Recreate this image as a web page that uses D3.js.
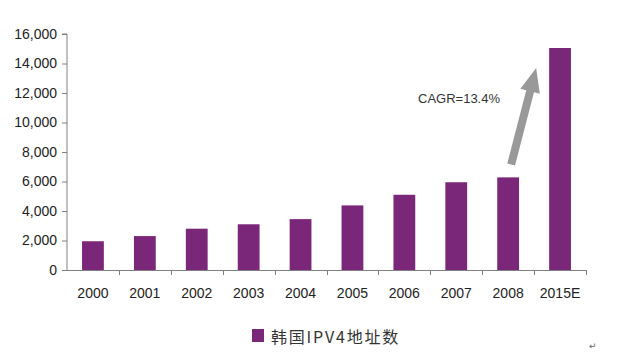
<!DOCTYPE html>
<html><head><meta charset="utf-8">
<script src="https://cdn.jsdelivr.net/npm/d3@7"></script>
<style>body{margin:0;background:#fff;}svg{display:block;}</style>
</head><body>
<svg id="c" width="625" height="358"></svg>
<script>
const categories = ["2000","2001","2002","2003","2004","2005","2006","2007","2008","2015E"];
const values = [1950, 2300, 2800, 3100, 3450, 4380, 5100, 5950, 6280, 15050];
const yTicks = [0,2000,4000,6000,8000,10000,12000,14000,16000];
const seriesName = "韩国IPV4地址数";
const cagrLabel = "CAGR=13.4%";
const arrowFrom = {cat:"2008", value:7150};
const arrowTo = {cat:"2008", value:13700};

const svg = d3.select("#c");
const L=67, R=586, T=34, B=270;
const x = d3.scaleBand().domain(categories).range([L,R]).paddingInner(0.58).paddingOuter(0.29);
const y = d3.scaleLinear().domain([0,16000]).range([B,T]);
const axisColor="#808080";
const font="'Liberation Sans', Arial, sans-serif";

svg.selectAll("rect.bar").data(values).join("rect")
  .attr("x",(d,i)=>x(categories[i])).attr("width",x.bandwidth())
  .attr("y",d=>y(d)).attr("height",d=>B-y(d)).attr("fill","#7B2779");

// y axis
const ya = svg.append("g").attr("transform",`translate(${L},0)`)
  .call(d3.axisLeft(y).tickValues(yTicks).tickSize(5).tickPadding(5).tickFormat(d3.format(",")));
ya.select(".domain").attr("stroke",axisColor).attr("d",`M-5,${T}H0V${B}`);
ya.selectAll(".tick line").attr("stroke",axisColor);
ya.selectAll(".tick text").attr("font-family",font).attr("font-size",14).attr("fill","#222");

// x axis
const step = (R-L)/categories.length;
const xg = svg.append("g");
xg.append("line").attr("x1",L).attr("x2",R).attr("y1",B+0.5).attr("y2",B+0.5).attr("stroke",axisColor);
xg.selectAll("line.t").data(d3.range(1,categories.length+1)).join("line")
  .attr("x1",i=>Math.round(L+i*step)+0.5).attr("x2",i=>Math.round(L+i*step)+0.5)
  .attr("y1",B).attr("y2",B+5).attr("stroke",axisColor);
xg.selectAll("text").data(categories).join("text")
  .attr("x",d=>x(d)+x.bandwidth()/2).attr("y",298).attr("text-anchor","middle")
  .attr("font-family",font).attr("font-size",14).attr("fill","#222").text(d=>d);

// arrow
const x1=x(arrowFrom.cat)+x.bandwidth()/2+3, y1=y(arrowFrom.value);
const x2=x(arrowTo.cat)+x.bandwidth()/2+28, y2=y(arrowTo.value);
const ang=Math.atan2(y2-y1,x2-x1);
const len=Math.hypot(x2-x1,y2-y1);
const headLen=24, sw=4, hw=10;
const pts=[[0,-sw],[len-headLen,-sw],[len-headLen,-hw],[len,0],[len-headLen,hw],[len-headLen,sw],[0,sw]];
svg.append("polygon").attr("points",pts.map(p=>p.join(",")).join(" "))
  .attr("transform",`translate(${x1},${y1}) rotate(${ang*180/Math.PI})`)
  .attr("fill","#999999");
svg.append("text").attr("x",418).attr("y",103).attr("font-family",font).attr("font-size",13)
  .attr("fill","#333").text(cagrLabel);

// legend
svg.append("rect").attr("x",252).attr("y",329).attr("width",12).attr("height",13).attr("fill","#7B2779");
svg.append("text").attr("x",271).attr("y",343).attr("font-family","'Noto Sans CJK SC', sans-serif")
  .attr("font-size",16).attr("letter-spacing",1.8).attr("fill","#333").text(seriesName);
svg.append("text").attr("x",589).attr("y",349).attr("font-family","'DejaVu Sans', sans-serif")
  .attr("font-size",9).attr("fill","#666").text("↵");
</script>
</body></html>
